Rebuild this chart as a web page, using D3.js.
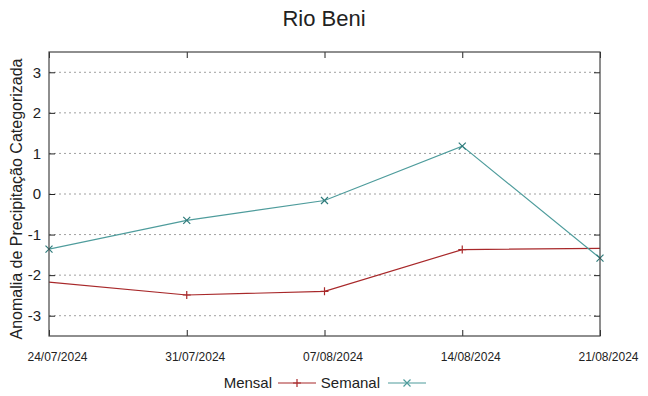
<!DOCTYPE html>
<html lang="pt">
<head>
<meta charset="utf-8">
<script src="https://d3js.org/d3.v7.min.js"></script>
<style>
  html, body { margin: 0; padding: 0; background: #fff; }
  body { font-family: "Liberation Sans", Arial, sans-serif; }
  svg text { fill: #222; }
</style>
</head>
<body>
<script>
// data
var tickDates = ["24/07/2024", "31/07/2024", "07/08/2024", "14/08/2024", "21/08/2024"];
var yTicks = [-3, -2, -1, 0, 1, 2, 3];

var semanalDates = ["24/07/2024", "31/07/2024", "07/08/2024", "14/08/2024", "21/08/2024"];
var semanalValues = [-1.36, -0.65, -0.16, 1.18, -1.58];

// monthly series runs past both ends of the window and is clipped
var mensalDates = ["17/07/2024", "31/07/2024", "07/08/2024", "14/08/2024", "28/08/2024"];
var mensalValues = [-1.85, -2.49, -2.40, -1.37, -1.31];

var parse = d3.timeParse("%d/%m/%Y");
var fmt = d3.timeFormat("%d/%m/%Y");

var width = 648, height = 396;
var margin = {top: 52, right: 48, bottom: 60, left: 49};
var iw = width - margin.left - margin.right,
    ih = height - margin.top - margin.bottom;

var svg = d3.select("body").append("svg")
    .attr("width", width)
    .attr("height", height);

var x = d3.scaleTime()
    .domain([parse(tickDates[0]), parse(tickDates[tickDates.length - 1])])
    .range([0, iw]);
var y = d3.scaleLinear()
    .domain([-3.5, 3.5])
    .range([ih, 0]);

svg.append("defs").append("clipPath").attr("id", "plot-clip")
  .append("rect").attr("width", iw).attr("height", ih);

var g = svg.append("g")
    .attr("transform", "translate(" + margin.left + "," + margin.top + ")");

// grid
g.selectAll(".grid")
    .data(yTicks)
    .enter().append("line")
    .attr("x1", 0).attr("x2", iw)
    .attr("y1", function(d) { return y(d); })
    .attr("y2", function(d) { return y(d); })
    .style("stroke", "#a0a0a0")
    .style("stroke-width", 1)
    .style("stroke-dasharray", "2,3");

// axes (ticks inward on all sides)
var yAxisL = g.append("g")
    .call(d3.axisLeft(y).tickValues(yTicks).tickSize(-6).tickPadding(8).tickFormat(function(d) { return String(d); }));
var yAxisR = g.append("g").attr("transform", "translate(" + iw + ",0)")
    .call(d3.axisRight(y).tickValues(yTicks).tickSize(-6).tickFormat(""));
var xAxisB = g.append("g").attr("transform", "translate(0," + ih + ")")
    .call(d3.axisBottom(x).tickValues(tickDates.map(parse)).tickSize(-6).tickPadding(16).tickFormat(fmt));
var xAxisT = g.append("g")
    .call(d3.axisTop(x).tickValues(tickDates.map(parse)).tickSize(-6).tickFormat(""));

[yAxisL, yAxisR, xAxisB, xAxisT].forEach(function(a) {
  a.select(".domain").remove();
  a.selectAll("line").style("stroke", "#222");
});
yAxisL.selectAll("text").style("font-size", "15px").style("font-family", "Liberation Sans, Arial, sans-serif").attr("fill", "#222");
xAxisB.selectAll("text").style("font-size", "12px").style("font-family", "Liberation Sans, Arial, sans-serif")
    .attr("dx", 8).attr("fill", "#222");

// series
var line = d3.line()
    .x(function(d) { return x(d.date); })
    .y(function(d) { return y(d.value); });

var mensal = mensalDates.map(function(d, i) { return {date: parse(d), value: mensalValues[i]}; });
var semanal = semanalDates.map(function(d, i) { return {date: parse(d), value: semanalValues[i]}; });

var mensalColor = "#a8282a", semanalColor = "#4e9c9c";

var plot = g.append("g").attr("clip-path", "url(#plot-clip)");

plot.append("path").datum(mensal)
    .attr("d", line)
    .style("fill", "none").style("stroke", mensalColor).style("stroke-width", 1.2);
plot.append("path").datum(semanal)
    .attr("d", line)
    .style("fill", "none").style("stroke", semanalColor).style("stroke-width", 1.2);

var inside = function(d) { return d.date > x.domain()[0] && d.date <= x.domain()[1]; };

// "+" markers for Mensal
g.selectAll(".plus").data(mensal.filter(inside))
  .enter().append("path")
    .attr("transform", function(d) { return "translate(" + x(d.date) + "," + y(d.value) + ")"; })
    .attr("d", "M-4,0H4M0,-4V4")
    .style("stroke", mensalColor).style("stroke-width", 1.2);

// "x" markers for Semanal
g.selectAll(".cross").data(semanal)
  .enter().append("path")
    .attr("transform", function(d) { return "translate(" + x(d.date) + "," + y(d.value) + ")"; })
    .attr("d", "M-3.5,-3.5L3.5,3.5M-3.5,3.5L3.5,-3.5")
    .style("stroke", "#2f7b7b").style("stroke-width", 1.2);

// border
g.append("rect")
    .attr("width", iw).attr("height", ih)
    .style("fill", "none").style("stroke", "#444").style("stroke-width", 1.2);

// title
svg.append("text")
    .attr("x", width / 2).attr("y", 26)
    .attr("text-anchor", "middle")
    .style("font-size", "22px")
    .text("Rio Beni");

// y label
svg.append("text")
    .attr("transform", "translate(22,199) rotate(-90)")
    .attr("text-anchor", "middle")
    .style("font-size", "16px")
    .text("Anomalia de Precipitação Categorizada");

// legend
var legend = svg.append("g").attr("transform", "translate(0,383)");
var items = [
  {name: "Mensal", color: mensalColor, textEnd: 272, x0: 278, mark: "M-4,0H4M0,-4V4"},
  {name: "Semanal", color: semanalColor, textEnd: 380, x0: 388, mark: "M-3.5,-3.5L3.5,3.5M-3.5,3.5L3.5,-3.5"}
];
items.forEach(function(it) {
  legend.append("text")
      .attr("x", it.textEnd).attr("y", 5)
      .attr("text-anchor", "end")
      .style("font-size", "15px")
      .text(it.name);
  legend.append("line")
      .attr("x1", it.x0).attr("x2", it.x0 + 38)
      .attr("y1", 0).attr("y2", 0)
      .style("stroke", it.color).style("stroke-width", 1.2);
  legend.append("path")
      .attr("transform", "translate(" + (it.x0 + 19) + ",0)")
      .attr("d", it.mark)
      .style("stroke", it.color).style("stroke-width", 1.2);
});
</script>
</body>
</html>
